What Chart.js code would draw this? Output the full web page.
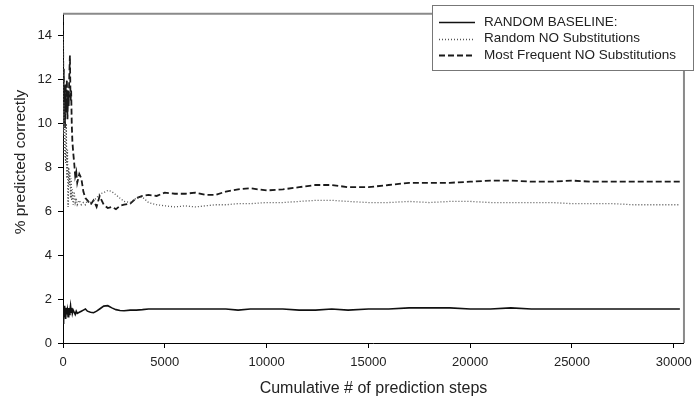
<!DOCTYPE html>
<html>
<head>
    <title>Prediction accuracy</title>
    <script src="https://cdn.jsdelivr.net/npm/chart.js"></script>
    <style>
        body {
            margin: 0;
            background: #ffffff;
        }
        .wrap {
            width: 699px;
            height: 401px;
        }
    </style>
</head>
<body>
    <div class="wrap">
        <canvas id="accChart" width="699" height="401"></canvas>
    </div>

    <script>
        // cumulative prediction steps (shared x values)
        const steps = [0, 20, 40, 60, 80, 100, 130, 160, 190, 220, 250, 280, 310, 340, 370, 400, 430, 460, 500,
            550, 600, 650, 700, 800, 900, 1000, 1100, 1200, 1350, 1500, 1650, 1800, 2000, 2200, 2400, 2600, 2800,
            3000, 3300, 3600, 3900, 4200, 4600, 5000, 5500, 6000, 6500, 7000, 7500, 8000, 8600, 9200, 10000,
            10800, 11600, 12400, 13200, 14000, 15000, 16000, 17000, 18000, 19000, 20000, 21000, 22000, 23000,
            24000, 25000, 26000, 27000, 28000, 29000, 30300];

        const baseline = [0.9, 1.5, 1.0, 1.7, 1.2, 1.4, 1.1, 1.6, 1.3, 1.5, 1.2, 1.6, 1.3, 1.5, 1.7, 1.4, 1.6, 1.35, 1.5,
            1.4, 1.3, 1.45, 1.35, 1.4, 1.45, 1.5, 1.55, 1.45, 1.4, 1.38, 1.45, 1.55, 1.68, 1.7, 1.6, 1.52, 1.48,
            1.47, 1.5, 1.5, 1.52, 1.55, 1.55, 1.55, 1.55, 1.55, 1.55, 1.55, 1.55, 1.55, 1.5, 1.55, 1.55,
            1.55, 1.5, 1.5, 1.55, 1.5, 1.55, 1.55, 1.6, 1.6, 1.6, 1.55, 1.55, 1.6, 1.55,
            1.55, 1.55, 1.55, 1.55, 1.55, 1.55, 1.55];

        const randomNoSub = [14.0, 9.5, 11.0, 8.5, 10.0, 9.0, 8.2, 10.0, 7.5, 8.8, 6.2, 8.0, 7.2, 7.8, 6.6, 7.5, 6.5, 7.0, 6.3,
            6.9, 6.4, 6.6, 6.3, 6.5, 6.3, 6.4, 6.3, 6.5, 6.4, 6.5, 6.6, 6.8, 6.85, 6.95, 6.9, 6.75, 6.6,
            6.45, 6.4, 6.6, 6.65, 6.4, 6.3, 6.25, 6.2, 6.25, 6.2, 6.25, 6.3, 6.3, 6.35, 6.35, 6.4,
            6.4, 6.45, 6.5, 6.5, 6.45, 6.4, 6.4, 6.45, 6.4, 6.45, 6.45, 6.4, 6.4, 6.4,
            6.4, 6.35, 6.35, 6.35, 6.3, 6.3, 6.3];

        const mostFreqNoSub = [14.9, 11.0, 12.5, 10.0, 11.5, 9.8, 11.8, 10.5, 12.0, 10.2, 11.5, 10.8, 12.2, 13.1, 11.0, 11.5, 10.0, 9.2, 8.7,
            8.2, 7.6, 7.8, 7.3, 7.7, 7.5, 6.9, 6.6, 6.5, 6.3, 6.5, 6.2, 6.7, 6.3, 6.15, 6.2, 6.1, 6.25,
            6.3, 6.35, 6.6, 6.7, 6.75, 6.7, 6.85, 6.8, 6.8, 6.85, 6.75, 6.75, 6.9, 7.0, 7.05, 6.95,
            7.0, 7.1, 7.2, 7.2, 7.1, 7.1, 7.2, 7.3, 7.3, 7.3, 7.35, 7.4, 7.4, 7.35,
            7.35, 7.4, 7.35, 7.35, 7.35, 7.35, 7.35];

        const seriesLabels = ['RANDOM BASELINE:', 'Random NO Substitutions', 'Most Frequent NO Substitutions'];
        const xTicks = [0, 5000, 10000, 15000, 20000, 25000, 30000];
        const yTicks = [0, 2, 4, 6, 8, 10, 12, 14];
        const yTitle = '% predicted correctly';

        const toPoints = ys => ys.map((y, i) => ({x: steps[i], y: y}));
        const fontFamily = '"Liberation Sans", Arial, sans-serif';

        // legend box, y title (sits a bit above centre) and grey frame on top/right of the plot
        const framePlugin = {
            id: 'frame',
            afterDraw(chart) {
                const ctx = chart.ctx;
                const a = chart.chartArea;
                ctx.save();
                ctx.strokeStyle = '#8a8a8a';
                ctx.lineWidth = 2;
                ctx.beginPath();
                ctx.moveTo(a.left, a.top);
                ctx.lineTo(a.right, a.top);
                ctx.lineTo(a.right, a.bottom);
                ctx.stroke();

                // y axis title
                ctx.save();
                ctx.translate(25, 162);
                ctx.rotate(-Math.PI / 2);
                ctx.font = '15.5px ' + fontFamily;
                ctx.fillStyle = '#222222';
                ctx.textAlign = 'center';
                ctx.textBaseline = 'alphabetic';
                ctx.fillText(yTitle, 0, 0);
                ctx.restore();

                // legend
                const bx = 432, by = 5, bw = 261, bh = 65;
                ctx.fillStyle = '#ffffff';
                ctx.fillRect(bx, by, bw, bh);
                ctx.strokeStyle = '#777777';
                ctx.lineWidth = 1;
                ctx.strokeRect(bx + 0.5, by + 0.5, bw, bh);

                ctx.font = '13.5px ' + fontFamily;
                ctx.textBaseline = 'middle';
                ctx.fillStyle = '#222222';
                chart.data.datasets.forEach((ds, i) => {
                    const y = by + 17 + i * 16.5;
                    ctx.strokeStyle = ds.borderColor;
                    ctx.lineWidth = ds.borderWidth;
                    ctx.setLineDash(ds.borderDash || []);
                    ctx.beginPath();
                    ctx.moveTo(bx + 7, Math.round(y) + 0.5);
                    ctx.lineTo(bx + 43, Math.round(y) + 0.5);
                    ctx.stroke();
                    ctx.setLineDash([]);
                    ctx.fillText(ds.label, bx + 52, y);
                });
                ctx.restore();
            }
        };

        const tickFont = {family: fontFamily, size: 13};
        const titleFont = {family: fontFamily, size: 16};

        new Chart(document.getElementById('accChart'), {
            type: 'line',
            data: {
                datasets: [{
                    label: seriesLabels[0],
                    data: toPoints(baseline),
                    borderColor: '#111111',
                    borderWidth: 1.6,
                    pointRadius: 0,
                    tension: 0
                }, {
                    label: seriesLabels[1],
                    data: toPoints(randomNoSub),
                    borderColor: '#555555',
                    borderWidth: 1.3,
                    borderDash: [1, 2],
                    pointRadius: 0,
                    tension: 0
                }, {
                    label: seriesLabels[2],
                    data: toPoints(mostFreqNoSub),
                    borderColor: '#1a1a1a',
                    borderWidth: 1.8,
                    borderDash: [6, 3],
                    pointRadius: 0,
                    tension: 0
                }]
            },
            options: {
                responsive: false,
                animation: false,
                layout: {padding: {top: 4, right: 9, left: 0, bottom: 0}},
                plugins: {
                    legend: {display: false},
                    tooltip: {enabled: false}
                },
                scales: {
                    x: {
                        type: 'linear',
                        min: 0,
                        max: 30500,
                        afterBuildTicks: s => { s.ticks = xTicks.map(v => ({value: v})); },
                        afterFit: s => { s.height = 58; },
                        ticks: {
                            color: '#222222',
                            font: tickFont,
                            padding: 7,
                            maxRotation: 0,
                            callback: v => String(v)
                        },
                        grid: {drawOnChartArea: false, color: '#000000', tickLength: 5},
                        border: {color: '#000000', width: 1},
                        title: {
                            display: true,
                            text: 'Cumulative # of prediction steps',
                            color: '#222222',
                            font: titleFont,
                            padding: {top: 2, bottom: 3}
                        }
                    },
                    y: {
                        min: 0,
                        max: 15,
                        afterBuildTicks: s => { s.ticks = yTicks.map(v => ({value: v})); },
                        afterFit: s => { s.width = 63; },
                        ticks: {
                            color: '#222222',
                            font: tickFont,
                            padding: 6
                        },
                        grid: {drawOnChartArea: false, color: '#000000', tickLength: 5},
                        border: {color: '#000000', width: 1}
                    }
                }
            },
            plugins: [framePlugin]
        });
    </script>
</body>
</html>
